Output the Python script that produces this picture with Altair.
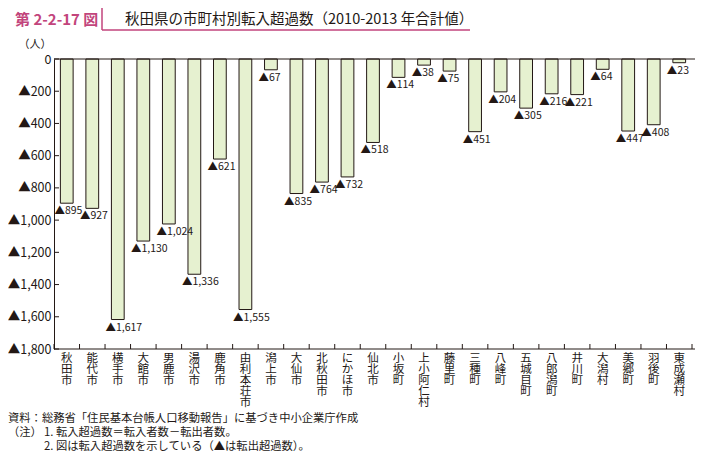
import altair as alt
import pandas as pd

# ---- data ----
names = ["秋田市", "能代市", "横手市", "大館市", "男鹿市", "湯沢市", "鹿角市", "由利本荘市",
         "潟上市", "大仙市", "北秋田市", "にかほ市", "仙北市", "小坂町", "上小阿仁村", "藤里町",
         "三種町", "八峰町", "五城目町", "八郎潟町", "井川町", "大潟村", "美郷町", "羽後町", "東成瀬村"]
values = [-895, -927, -1617, -1130, -1024, -1336, -621, -1555,
          -67, -835, -764, -732, -518, -114, -38, -75,
          -451, -204, -305, -216, -221, -64, -447, -408, -23]
y_ticks = [0, -200, -400, -600, -800, -1000, -1200, -1400, -1600, -1800]
title_tag = "第 2-2-17 図"
title_text = "秋田県の市町村別転入超過数（2010-2013 年合計値）"
unit_text = "（人）"
note_source = "資料：総務省「住民基本台帳人口移動報告」に基づき中小企業庁作成"
note_head = "（注）"
note_1 = "1.  転入超過数＝転入者数－転出者数。"
note_2 = "2.  図は転入超過数を示している（▲は転出超過数）。"

W, H = 638, 290
STEP = W / len(names)
FONT = "Noto Sans CJK JP"
INK = "#231815"
PINK = "#c2457c"
BAR_FILL = "#e6f1d0"

df = pd.DataFrame({"name": names, "value": values})
df["label"] = ["▲" + format(-v, ",") for v in values]
ticks_df = pd.DataFrame({"value": y_ticks})

xsort = names
xscale = alt.Scale(paddingInner=0.5, paddingOuter=0.25)
yscale = alt.Scale(domain=[-1800, 0], nice=False)

x_axis = alt.Axis(title=None, labelExpr="split(datum.label, '')", labelAngle=0,
                  labelFontSize=11.5, labelLineHeight=11.1, labelBaseline="top",
                  labelPadding=3, ticks=False, domain=False, labelColor=INK,
                  labelFont=FONT, labelOverlap=False, labelAlign="center")
y_axis = alt.Axis(title=None, values=y_ticks,
                  labelExpr="datum.value == 0 ? '0' : '▲' + format(-datum.value, ',')",
                  ticks=False, labelPadding=3, labelFontSize=12.5, grid=False,
                  labelOverlap=False, labelBound=False, labelFlush=False,
                  domainColor=INK, domainWidth=1, labelColor=INK, labelFont=FONT)


def X(band=0.5):
    return alt.X("name:N", sort=xsort, scale=xscale, axis=x_axis, bandPosition=band)


def Y():
    return alt.Y("value:Q", scale=yscale, axis=y_axis)


bars = alt.Chart(df).mark_bar(fill=BAR_FILL, stroke=INK, strokeWidth=1).encode(
    x=alt.X("name:N", sort=xsort, scale=xscale, axis=x_axis), y=Y())

labels = alt.Chart(df).mark_text(align="left", baseline="middle", dx=-6, dy=8,
                                 fontSize=10.5, font=FONT, color=INK).encode(
    x=X(0), y=Y(), text="label:N")

xticks = alt.Chart(df).mark_rule(color=INK, strokeWidth=1, xOffset=-STEP / 4).encode(
    x=X(0), y=alt.value(H - 5), y2=alt.value(H))
xtick_end = alt.Chart(df.tail(1)).mark_rule(color=INK, strokeWidth=1, xOffset=STEP / 4).encode(
    x=X(1), y=alt.value(H - 5), y2=alt.value(H))

yticks = alt.Chart(ticks_df).mark_rule(color=INK, strokeWidth=1).encode(
    y=Y(), x=alt.value(0), x2=alt.value(5))

zero_line = alt.Chart(ticks_df.head(1)).mark_rule(color=INK, strokeWidth=1).encode(
    y=Y(), x=alt.value(0), x2=alt.value(W + 3))
bottom_line = alt.Chart(ticks_df.tail(1)).mark_rule(color=INK, strokeWidth=1).encode(
    y=Y(), x=alt.value(0), x2=alt.value(W + 3))


def txt(s, xv, yv, size, color=INK, weight="normal", align="left"):
    return alt.Chart(pd.DataFrame({"t": [s]})).mark_text(
        align=align, baseline="middle", fontSize=size, font=FONT, color=color,
        fontWeight=weight).encode(x=alt.value(xv), y=alt.value(yv), text="t:N")


tag = txt(title_tag, -39, -39, 15, color=PINK, weight="bold")
title = txt(title_text, 71, -39, 14.5)
unit = txt(unit_text, -19, -14, 11, align="center")
n0 = txt(note_source, -46, 360, 11.3)
n1h = txt(note_head, -46, 374, 11.3)
n1 = txt(note_1, -10, 374, 11.3)
n2 = txt(note_2, -10, 388, 11.3)

pdf = pd.DataFrame({"a": [0]})
pink_v = alt.Chart(pdf).mark_rule(color=PINK, strokeWidth=1.5).encode(
    x=alt.value(48), y=alt.value(-51), y2=alt.value(-29))
pink_h = alt.Chart(pdf).mark_rule(color=PINK, strokeWidth=1.5).encode(
    x=alt.value(48), x2=alt.value(416), y=alt.value(-29))

chart = alt.layer(
    bars, labels, xticks, xtick_end, yticks, zero_line, bottom_line,
    tag, title, unit, n0, n1h, n1, n2, pink_v, pink_h
).properties(
    width=W, height=H,
    autosize=alt.AutoSizeParams(type="none"),
    padding={"left": 46, "top": 51, "right": 3, "bottom": 106},
).configure_view(stroke=None).configure_axis(labelOverlap=False)

chart.save("out.html", embed_options={"renderer": "svg", "actions": False})
